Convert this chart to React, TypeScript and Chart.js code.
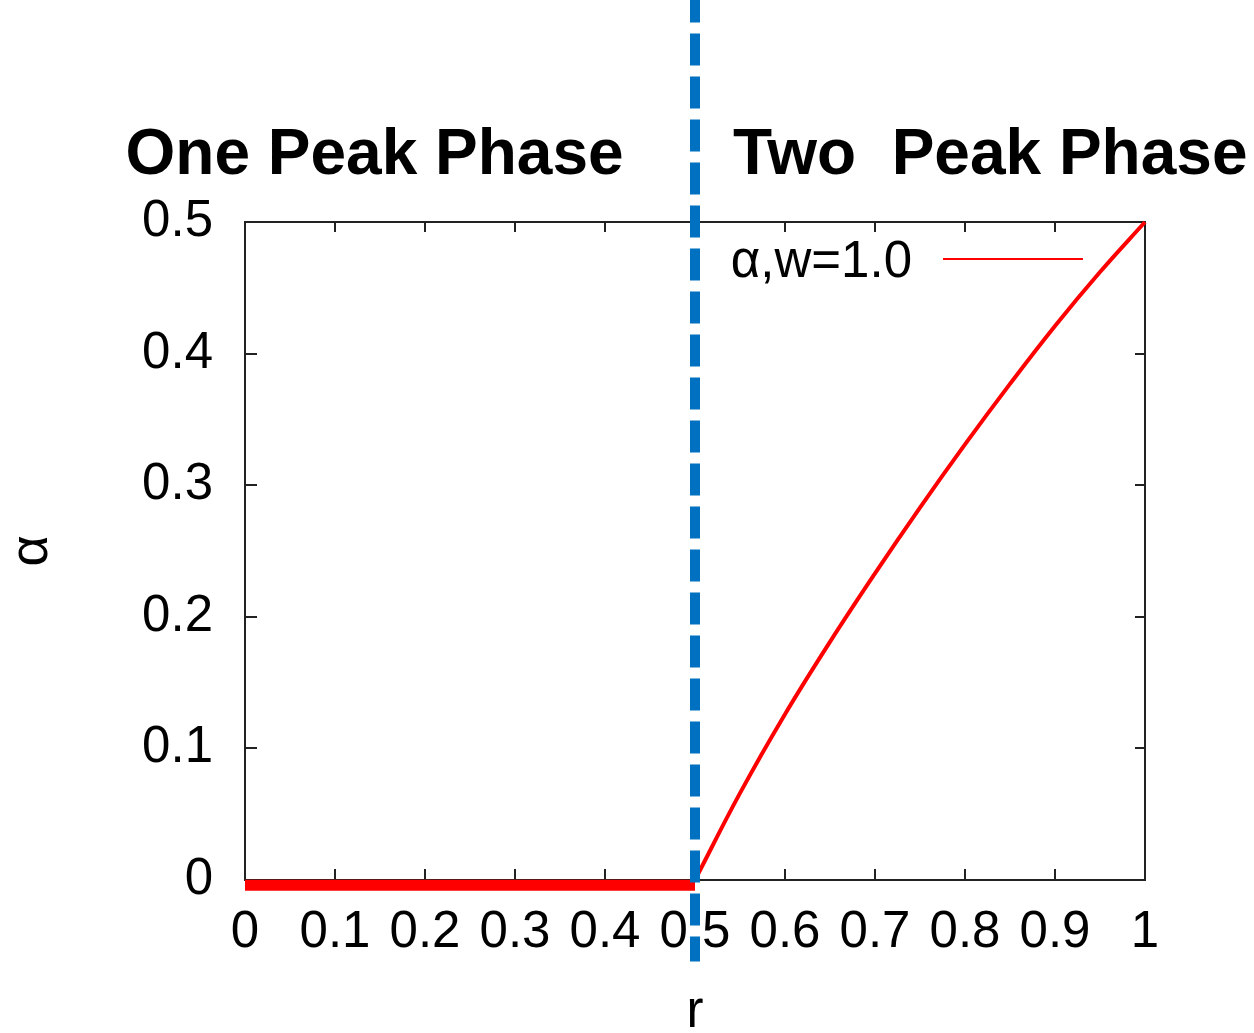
import React, { useEffect, useRef } from 'react';
import { Chart, registerables } from 'chart.js';

Chart.register(...registerables);

// ---- data ----
const flatR = [0, 0.5];
const flatAlpha = [-0.004, -0.004];
const curveR = [0.5, 0.55, 0.6, 0.65, 0.7, 0.75, 0.8, 0.85, 0.9, 0.95, 1.0];
const curveAlpha = [0, 0.066, 0.126, 0.181, 0.233, 0.283, 0.331, 0.377, 0.421, 0.462, 0.5];
const boundaryR = [0.5, 0.5];
const boundaryAlpha = [0.676, -0.062];
const phaseLabels = ['One Peak Phase', 'Two  Peak Phase'];
const phaseCenters = [0.144, 0.828];
const legendLabel = 'α,w=1.0';
const xAxisLabel = 'r';
const yAxisLabel = 'α';

const FONT = "'Liberation Sans', Arial, Helvetica, sans-serif";

const zip = (xs: number[], ys: number[]) => xs.map((x, i) => ({ x, y: ys[i] }));
const fmt = (v: any) => String(Number(Number(v).toFixed(1)));

const framePlugin = {
  id: 'gnuplotFrame',
  beforeDatasetsDraw(chart: any) {
    const { ctx, chartArea: a, scales } = chart;
    const xs = scales.x;
    const ys = scales.y;
    ctx.save();
    ctx.strokeStyle = '#222';
    ctx.lineWidth = 2;
    ctx.strokeRect(a.left, a.top, a.right - a.left, a.bottom - a.top);
    ctx.beginPath();
    xs.ticks.forEach((t: any) => {
      if (t.value <= xs.min || t.value >= xs.max) return;
      const px = Math.round(xs.getPixelForValue(t.value));
      ctx.moveTo(px, a.bottom);
      ctx.lineTo(px, a.bottom - 11);
      ctx.moveTo(px, a.top);
      ctx.lineTo(px, a.top + 10);
    });
    ys.ticks.forEach((t: any) => {
      if (t.value <= ys.min || t.value >= ys.max) return;
      const py = Math.round(ys.getPixelForValue(t.value));
      ctx.moveTo(a.left, py);
      ctx.lineTo(a.left + 12, py);
      ctx.moveTo(a.right, py);
      ctx.lineTo(a.right - 10, py);
    });
    ctx.stroke();
    ctx.restore();
  },
  afterDraw(chart: any) {
    const { ctx, chartArea: a, scales } = chart;
    ctx.save();
    // phase titles
    ctx.fillStyle = '#000';
    ctx.font = `bold 64px ${FONT}`;
    ctx.textAlign = 'center';
    ctx.textBaseline = 'alphabetic';
    phaseLabels.forEach((lbl, i) => {
      ctx.fillText(lbl, scales.x.getPixelForValue(phaseCenters[i]), a.top - 48);
    });
    // legend
    ctx.font = `51px ${FONT}`;
    ctx.textAlign = 'right';
    ctx.textBaseline = 'middle';
    ctx.fillText(legendLabel, a.right - 233, a.top + 41);
    ctx.strokeStyle = '#ff0000';
    ctx.lineWidth = 2;
    ctx.beginPath();
    ctx.moveTo(a.right - 202, a.top + 37);
    ctx.lineTo(a.right - 62, a.top + 37);
    ctx.stroke();
    ctx.restore();
  },
};

export default function App() {
  const ref = useRef<HTMLCanvasElement | null>(null);

  useEffect(() => {
    document.body.style.margin = '0';
    const canvas = ref.current;
    if (!canvas) return;
    const chart = new Chart(canvas, {
      type: 'line',
      data: {
        datasets: [
          {
            label: 'boundary',
            data: zip(boundaryR, boundaryAlpha),
            borderColor: '#0070C0',
            borderWidth: 10,
            borderDash: [32, 11],
            pointRadius: 0,
            clip: false as any,
            borderCapStyle: 'butt',
          },
          {
            label: legendLabel,
            data: zip(curveR, curveAlpha),
            borderColor: '#ff0000',
            borderWidth: 4,
            pointRadius: 0,
            tension: 0.4,
            clip: false as any,
          },
          {
            label: 'flat',
            data: zip(flatR, flatAlpha),
            borderColor: '#ff0000',
            borderWidth: 11,
            pointRadius: 0,
            clip: false as any,
            borderCapStyle: 'butt',
          },
        ],
      },
      options: {
        animation: false,
        responsive: false,
        devicePixelRatio: 1,
        layout: { padding: { top: 222, right: 109, left: 0, bottom: 0 } },
        plugins: {
          legend: { display: false },
          tooltip: { enabled: false },
          title: { display: false },
        },
        scales: {
          x: {
            type: 'linear',
            min: 0,
            max: 1,
            grid: { display: false, drawTicks: false },
            border: { display: false },
            ticks: {
              stepSize: 0.1,
              color: '#000',
              font: { family: FONT, size: 51 },
              padding: 22,
              maxRotation: 0,
              autoSkip: false,
              callback: fmt,
            },
            title: {
              display: true,
              text: xAxisLabel,
              color: '#000',
              font: { family: FONT, size: 51, lineHeight: 0.8 },
              padding: 0,
            },
            afterFit(scale: any) {
              scale.height = 153;
            },
          },
          y: {
            type: 'linear',
            min: 0,
            max: 0.5,
            grid: { display: false, drawTicks: false },
            border: { display: false },
            ticks: {
              stepSize: 0.1,
              color: '#000',
              font: { family: FONT, size: 51 },
              padding: 32,
              callback: fmt,
            },
            title: {
              display: true,
              text: yAxisLabel,
              color: '#000',
              font: { family: FONT, size: 54, lineHeight: 1.2 },
              padding: 0,
            },
            afterFit(scale: any) {
              scale.width = 245;
            },
          },
        },
      },
      plugins: [framePlugin],
    } as any);
    return () => chart.destroy();
  }, []);

  return (
    <div style={{ width: 1254, height: 1033, background: '#fff' }}>
      <canvas ref={ref} width={1254} height={1033} style={{ display: 'block' }} />
    </div>
  );
}
